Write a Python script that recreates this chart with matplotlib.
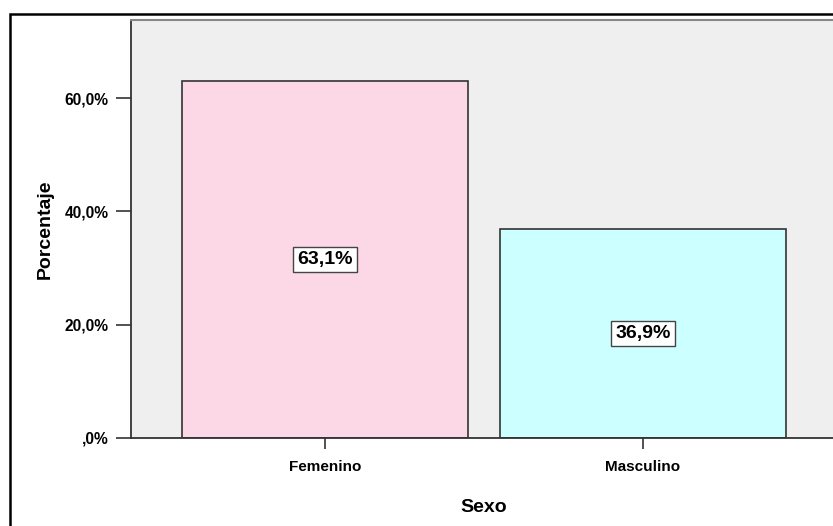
import matplotlib.pyplot as plt
from matplotlib.patches import Rectangle

# Porcentaje por sexo
categorias = ["Femenino", "Masculino"]
porcentajes = [63.1, 36.9]
etiquetas = ["63,1%", "36,9%"]
yticks = [0, 20, 40, 60]
ytick_labels = [",0%", "20,0%", "40,0%", "60,0%"]
colores = ["#FCD7E5", "#CCFFFF"]

plt.rcParams["font.family"] = ["Liberation Sans", "DejaVu Sans"]
plt.rcParams["font.weight"] = "bold"

W, H = 833, 526
fig = plt.figure(figsize=(W / 100, H / 100), dpi=100)

# outer frame (extends off the right and bottom of the canvas)
fig.patches.append(Rectangle((10 / W, -0.05), 1.1, 1 - 14 / H + 0.05,
                             transform=fig.transFigure, fill=False,
                             edgecolor="black", linewidth=1.8))

ax = fig.add_axes([131 / W, 1 - 438 / H, (837 - 131) / W, (438 - 20) / H])
ax.set_facecolor("#EFEFEF")

x = range(len(categorias))
ax.bar(x, porcentajes, width=0.9, color=colores, edgecolor="#333333", linewidth=1.2, zorder=2)

for xi, v, lab in zip(x, porcentajes, etiquetas):
    ax.text(xi, v / 2, lab, ha="center", va="center", fontsize=14, fontweight="bold",
            zorder=3,
            bbox=dict(boxstyle="square,pad=0.22", facecolor="white",
                      edgecolor="#444444", linewidth=1))

ax.set_xlim(-0.61, 1.61)
ax.set_ylim(0, 73.8)
ax.set_xticks(list(x))
ax.set_xticklabels(categorias, fontsize=11, fontweight="bold")
ax.set_yticks(yticks)
ax.set_yticklabels(ytick_labels, fontsize=11.2, fontweight="bold")
ax.tick_params(axis="y", length=11, width=1.2, color="#333333", pad=5)
ax.tick_params(axis="x", length=8, width=1.2, color="#333333", pad=8)

for side in ["left", "bottom"]:
    ax.spines[side].set_color("#333333")
    ax.spines[side].set_linewidth(1.3)
ax.spines["top"].set_color("#888888")
ax.spines["top"].set_linewidth(1.5)
ax.spines["right"].set_visible(False)

ax.set_xlabel("Sexo", fontsize=14, fontweight="bold", labelpad=18)
ax.set_ylabel("Porcentaje", fontsize=14, fontweight="bold", labelpad=8)

fig.savefig("out.png", dpi=100)
